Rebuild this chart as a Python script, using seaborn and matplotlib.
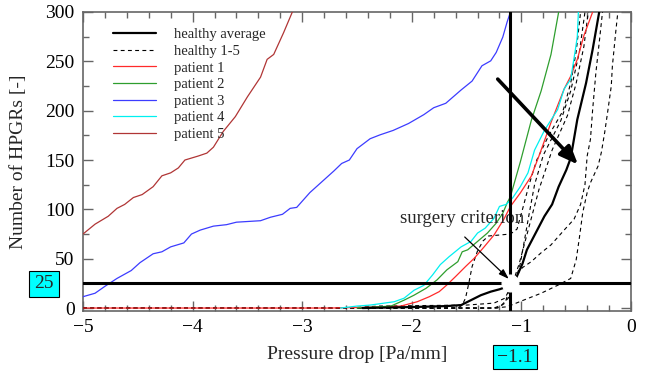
import numpy as np
import pandas as pd
import seaborn as sns
import matplotlib
matplotlib.use("Agg")
import matplotlib.pyplot as plt
from matplotlib.ticker import MultipleLocator

# ---------------- data ----------------
avg_x = [-2.45, -2.0, -1.68, -1.55, -1.46, -1.37, -1.28, -1.20, -1.11, -1.10,
         -1.05, -0.99, -0.95, -0.87, -0.79, -0.72, -0.66, -0.59, -0.55, -0.49,
         -0.41, -0.35, -0.29]
avg_y = [0, 1, 2, 3, 8, 13, 16.6, 19, 22.4, 25,
         30, 45, 59, 76, 93, 105, 123, 140, 152, 191,
         228, 262, 300]

h1_x = [-5, -1.58, -1.54, -1.51, -1.48, -1.45, -1.40, -1.35, -1.30, -1.20, -1.10,
        -1.04, -0.99, -0.93, -0.86, -0.75, -0.62, -0.55, -0.50, -0.46]
h1_y = [0, 0, 3, 10, 25, 42, 58, 68, 73, 74, 75,
        80, 100, 125, 150, 175, 200, 228, 260, 300]
h2_x = [-5, -1.25, -1.18, -1.12, -1.06, -1.01, -0.97, -0.93, -0.88, -0.80,
        -0.64, -0.55, -0.47, -0.42]
h2_y = [0, 0, 3, 10, 25, 45, 70, 95, 125, 155, 190, 220, 260, 300]
h3_x = [-5, -2.6, -2.3, -1.5, -1.25, -1.15, -1.08, -1.02, -0.96, -0.90,
        -0.84, -0.72, -0.58, -0.50, -0.43, -0.39]
h3_y = [0, 0, 2, 3, 5, 10, 25, 45, 70, 95, 120, 160, 195, 228, 265, 300]
h4_x = [-5, -1.22, -1.15, -1.12, -1.07, -0.99, -0.91, -0.82, -0.73, -0.61,
        -0.52, -0.46, -0.42, -0.40, -0.37, -0.35, -0.32, -0.29, -0.26]
h4_y = [0, 0, 5, 15, 30, 41, 47, 56, 64, 79,
        90, 105, 125, 154, 171, 201, 239, 269, 300]
h5_x = [-5, -1.25, -1.13, -0.98, -0.82, -0.67, -0.55, -0.50, -0.47, -0.44,
        -0.40, -0.37, -0.30, -0.27, -0.24, -0.21, -0.18, -0.17, -0.14, -0.12]
h5_y = [0, 0, 1.3, 8, 15, 23, 30, 49, 72, 97,
        117, 127, 144, 158, 178, 201, 225, 245, 279, 300]

p1_x = [-5, -2.75, -2.38, -2.10, -1.95, -1.84, -1.75, -1.68, -1.60, -1.51,
        -1.43, -1.34, -1.25, -1.16, -1.10, -1.01, -0.91, -0.84, -0.73, -0.61,
        -0.55, -0.49, -0.43, -0.35]
p1_y = [0, 0, 0.8, 2, 6.4, 11.5, 16.6, 23.4, 32, 42,
        50.5, 62, 74, 90, 103, 116.6, 133.6, 154, 188, 222,
        235, 252, 276, 300]
p2_x = [-2.5, -2.38, -2.19, -2.07, -1.98, -1.87, -1.77, -1.68, -1.58, -1.54,
        -1.49, -1.40, -1.31, -1.23, -1.17, -1.13, -1.10, -1.01, -0.91, -0.82,
        -0.73, -0.66]
p2_y = [0, 0.7, 2, 8, 13, 20, 28.5, 38.7, 47, 57,
        59, 67.5, 76, 86, 96, 106.5, 113, 148, 190, 220,
        257, 300]
p3_x = [-5, -4.89, -4.80, -4.69, -4.56, -4.48, -4.36, -4.28, -4.20, -4.08,
        -4.01, -3.93, -3.81, -3.69, -3.60, -3.38, -3.29, -3.18, -3.11, -3.05,
        -2.93, -2.80, -2.71, -2.64, -2.57, -2.50, -2.38, -2.29, -2.17, -2.03,
        -1.89, -1.80, -1.69, -1.55, -1.45, -1.36, -1.28, -1.23, -1.17, -1.13,
        -1.10]
p3_y = [11.5, 15, 22, 30, 38, 46, 55, 57, 62, 66,
        75, 79, 83, 84.5, 87, 88.5, 92, 95, 101, 102,
        117, 130, 139, 146.5, 150, 161.5, 171.6, 175.5, 180, 187,
        196, 203, 207.5, 221, 230, 245.5, 250.5, 259, 274.5, 290,
        300]
p4_x = [-2.65, -2.5, -2.38, -2.16, -2.07, -1.98, -1.89, -1.81, -1.74, -1.66,
        -1.55, -1.46, -1.40, -1.33, -1.25, -1.20, -1.14, -1.08, -1.01, -0.94,
        -0.88, -0.79, -0.67, -0.61, -0.55, -0.51, -0.49, -0.48]
p4_y = [0, 2, 3, 6.4, 10, 18, 23, 33.6, 44, 52,
        62, 67.5, 76, 81, 91, 103, 105, 111.6, 123, 137,
        160, 180, 201, 222, 232, 260, 275, 300]
p5_x = [-5, -4.89, -4.77, -4.69, -4.62, -4.54, -4.46, -4.36, -4.28, -4.20,
        -4.13, -4.07, -3.95, -3.87, -3.81, -3.72, -3.61, -3.50, -3.38, -3.32,
        -3.26, -3.17, -3.09]
p5_y = [75, 85, 93, 101, 105, 112, 115, 123, 134, 137,
        142, 150, 154, 157, 163, 179, 194, 214, 234, 252,
        257, 279, 300]

criterion_x = -1.1
criterion_y = 25

# ---------------- style ----------------
sns.set_style("ticks")
plt.rcParams['font.family'] = ['Liberation Serif', 'DejaVu Serif']
plt.rcParams['mathtext.fontset'] = 'stix'

fig = plt.figure(figsize=(6.46, 3.73), dpi=100)
ax = fig.add_axes([83/646, 1-311/373, 548/646, 299/373])

def draw(xs, ys, **kw):
    df = pd.DataFrame({"x": xs, "y": ys})
    sns.lineplot(data=df, x="x", y="y", ax=ax, estimator=None, sort=False, **kw)

draw(avg_x, avg_y, color="black", lw=1.6, label="healthy average", zorder=4)
first = True
for hx, hy in [(h1_x, h1_y), (h2_x, h2_y), (h3_x, h3_y), (h4_x, h4_y), (h5_x, h5_y)]:
    draw(hx, hy, color="black", lw=0.8, linestyle=(0, (3.5, 3)),
         label="healthy 1-5" if first else None, zorder=3)
    first = False
draw(p1_x, p1_y, color="#ff2a2a", lw=0.9, label="patient 1", zorder=3)
draw(p2_x, p2_y, color="#2e9e2e", lw=0.9, label="patient 2", zorder=3)
draw(p3_x, p3_y, color="#3c3cff", lw=0.9, label="patient 3", zorder=3)
draw(p4_x, p4_y, color="#00f0f0", lw=0.9, label="patient 4", zorder=3)
draw(p5_x, p5_y, color="#b03535", lw=0.9, label="patient 5", zorder=3)

ax.axhline(criterion_y, color="black", lw=2.2, zorder=5)
ax.axvline(criterion_x, color="black", lw=2.2, zorder=5)
ax.plot([criterion_x], [criterion_y], marker="o", ms=12, mfc="white",
        mec="white", zorder=6, clip_on=False)

# arrows
ax.annotate("", xy=(-0.484, 145.5), xytext=(-1.216, 232),
            arrowprops=dict(arrowstyle="-|>,head_length=1.1,head_width=0.45",
                            color="black", lw=2.6, shrinkA=0, shrinkB=0), zorder=7)
ax.annotate("", xy=(-1.115, 29.5), xytext=(-1.517, 72),
            arrowprops=dict(arrowstyle="-|>,head_length=0.6,head_width=0.2",
                            color="black", lw=0.9, shrinkA=0, shrinkB=0), zorder=7)
ax.text(-1.545, 91, "surgery criterion", fontsize=13.5, ha="center", va="center")

ax.set_xlim(-5, 0)
ax.set_ylim(-3, 300)
ax.xaxis.set_major_locator(MultipleLocator(1))
ax.xaxis.set_minor_locator(MultipleLocator(0.2))
ax.yaxis.set_major_locator(MultipleLocator(50))
ax.yaxis.set_minor_locator(MultipleLocator(25))
ax.tick_params(which="both", direction="in", top=True, right=True,
               color="#666666", labelsize=14, labelcolor="black")
ax.tick_params(which="major", length=7, width=1, pad=6)
ax.tick_params(which="minor", length=4, width=1)
for s in ax.spines.values():
    s.set_color("#666666")
    s.set_linewidth(1.2)

ax.set_xlabel("Pressure drop [Pa/mm]", fontsize=14, labelpad=7)
ax.set_ylabel("Number of HPGRs [-]", fontsize=14, labelpad=13)

# highlighted criterion values
fig.text(44/646, 1-284/373, "25", fontsize=14, ha="center", va="center",
         bbox=dict(boxstyle="square,pad=0.25", fc="#00ffff", ec="black", lw=0.8))
fig.text(515/646, 1-357/373, "\u22121.1", fontsize=14, ha="center", va="center",
         bbox=dict(boxstyle="square,pad=0.2", fc="#00ffff", ec="black", lw=0.8))

leg = ax.legend(loc="upper left", bbox_to_anchor=(0.038, 0.975), frameon=False,
                fontsize=10.5, handlelength=3.0, handletextpad=1.2,
                labelspacing=0.23, borderaxespad=0.2)

fig.savefig("out.png", dpi=100)
